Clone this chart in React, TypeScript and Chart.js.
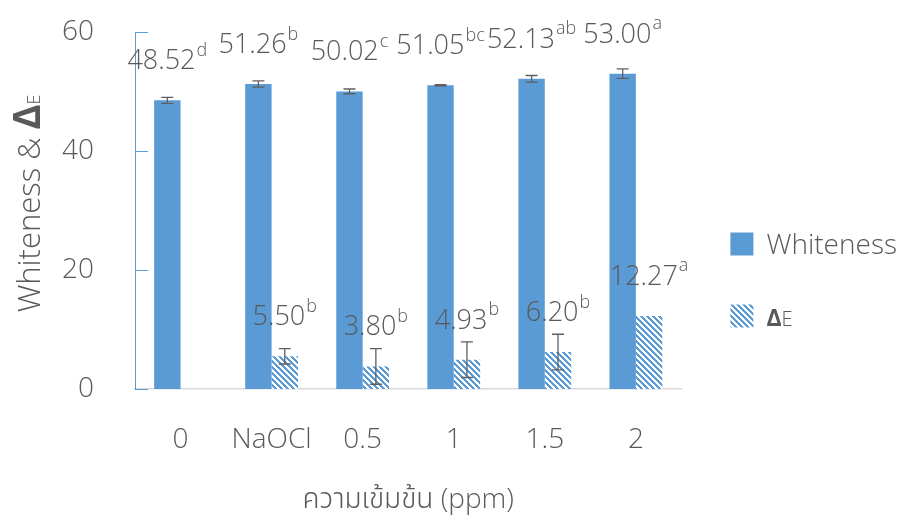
import React, { useEffect, useRef } from "react";
import { Chart, registerables } from "chart.js";

Chart.register(...registerables);

const categories = ["0", "NaOCl", "0.5", "1", "1.5", "2"];
const whiteness = [48.52, 51.26, 50.02, 51.05, 52.13, 53.0];
const whitenessSd = [0.5, 0.53, 0.4, 0.12, 0.56, 0.8];
const whitenessLetters = ["d", "b", "c", "bc", "ab", "a"];
const deltaE = [null, 5.5, 3.8, 4.93, 6.2, 12.27];
const deltaESd = [null, 1.3, 3.0, 3.0, 3.0, null];
const deltaELetters = ["", "b", "b", "b", "b", "a"];
const yTickValues = [0, 20, 40, 60];

const FONT = "'Open Sans', 'Noto Sans', sans-serif";
const THAI_FONT =
  "'Open Sans', 'Noto Sans Thai', 'Noto Sans Thai UI', 'Noto Sans Thai Looped', Loma, Garuda, Sawasdee, 'Tlwg Typo', sans-serif";
const TEXT = "#595959";
const BLUE = "#5B9BD5";

function makePattern(): CanvasPattern | string {
  const c = document.createElement("canvas");
  c.width = 6;
  c.height = 6;
  const ctx = c.getContext("2d");
  if (!ctx) return BLUE;
  const img = ctx.createImageData(6, 6);
  for (let y = 0; y < 6; y++) {
    for (let x = 0; x < 6; x++) {
      const k = (((x - y) % 6) + 6) % 6;
      const blue = k < 3;
      const i = (y * 6 + x) * 4;
      img.data[i] = blue ? 0x5b : 255;
      img.data[i + 1] = blue ? 0x9b : 255;
      img.data[i + 2] = blue ? 0xd5 : 255;
      img.data[i + 3] = 255;
    }
  }
  ctx.putImageData(img, 0, 0);
  const p = ctx.createPattern(c, "repeat");
  return p || BLUE;
}

const sdLists = [whitenessSd, deltaESd];
const letterLists = [whitenessLetters, deltaELetters];

type Part = { t: string; f: string };

function drawParts(ctx: CanvasRenderingContext2D, parts: Part[], x: number, y: number) {
  let cx = x;
  parts.forEach((p) => {
    ctx.font = p.f;
    ctx.fillText(p.t, cx, y);
    cx += ctx.measureText(p.t).width;
  });
}

function partsWidth(ctx: CanvasRenderingContext2D, parts: Part[]) {
  let w = 0;
  parts.forEach((p) => {
    ctx.font = p.f;
    w += ctx.measureText(p.t).width;
  });
  return w;
}

const overlayPlugin = {
  id: "overlay",
  afterDraw(chart: any) {
    const ctx: CanvasRenderingContext2D = chart.ctx;
    const yScale = chart.scales.y;
    const area = chart.chartArea;
    ctx.save();
    // inner tick marks on the y axis
    ctx.strokeStyle = BLUE;
    ctx.lineWidth = 1;
    yTickValues.forEach((v) => {
      const py = Math.round(yScale.getPixelForValue(v)) + 0.5;
      ctx.beginPath();
      ctx.moveTo(area.left, py);
      ctx.lineTo(area.left + 13, py);
      ctx.stroke();
    });
    // error bars and value labels
    chart.data.datasets.forEach((ds: any, di: number) => {
      const meta = chart.getDatasetMeta(di);
      meta.data.forEach((bar: any, j: number) => {
        const v = ds.data[j];
        if (v === null || v === undefined) return;
        const sd = sdLists[di][j];
        const x = bar.x;
        if (sd !== null && sd !== undefined) {
          const yTop = yScale.getPixelForValue(v + sd);
          const yBot = yScale.getPixelForValue(v - sd);
          ctx.strokeStyle = "#5f5f5f";
          ctx.lineWidth = 1.3;
          ctx.beginPath();
          ctx.moveTo(x, yTop);
          ctx.lineTo(x, yBot);
          ctx.moveTo(x - 6, yTop);
          ctx.lineTo(x + 6, yTop);
          ctx.moveTo(x - 6, yBot);
          ctx.lineTo(x + 6, yBot);
          ctx.stroke();
        }
        const main = v.toFixed(2);
        const sup = letterLists[di][j];
        const base = yScale.getPixelForValue(v) - 31;
        const mainFont = `300 27px ${FONT}`;
        const supFont = `300 18px ${FONT}`;
        ctx.font = mainFont;
        const mw = ctx.measureText(main).width;
        ctx.font = supFont;
        const sw = ctx.measureText(sup).width;
        const left = x - (mw + sw + 1) / 2;
        ctx.fillStyle = TEXT;
        ctx.textBaseline = "alphabetic";
        ctx.textAlign = "left";
        ctx.font = mainFont;
        ctx.fillText(main, left, base);
        ctx.font = supFont;
        ctx.fillText(sup, left + mw + 1, base - 13.5);
      });
    });
    // y axis title with mixed styles
    const yParts: Part[] = [
      { t: "Whiteness & ", f: `300 31px ${FONT}` },
      { t: "Δ", f: `bold 38px ${FONT}` },
      { t: "E", f: `300 18px ${FONT}` },
    ];
    const tw = partsWidth(ctx, yParts);
    ctx.save();
    ctx.translate(40, (area.top + area.bottom) / 2 - 7);
    ctx.rotate(-Math.PI / 2);
    ctx.fillStyle = TEXT;
    ctx.textBaseline = "alphabetic";
    ctx.textAlign = "left";
    drawParts(ctx, yParts, -tw / 2, 0);
    ctx.restore();
    // legend texts
    const legend = chart.legend;
    if (legend && legend.legendHitBoxes) {
      const texts: Part[][] = [
        [{ t: "Whiteness", f: `300 28px ${FONT}` }],
        [
          { t: "Δ", f: `bold 23px ${FONT}` },
          { t: "E", f: `300 20px ${FONT}` },
        ],
      ];
      legend.legendHitBoxes.forEach((hb: any, i: number) => {
        const parts = texts[i];
        if (!parts) return;
        ctx.fillStyle = TEXT;
        ctx.textBaseline = "alphabetic";
        ctx.textAlign = "left";
        drawParts(ctx, parts, hb.left + 36, hb.top + hb.height / 2 + 10);
      });
    }
    ctx.restore();
  },
};

export default function App() {
  const ref = useRef<HTMLCanvasElement | null>(null);
  useEffect(() => {
    if (!ref.current) return;
    const pattern = makePattern();
    const chart = new Chart(ref.current, {
      type: "bar",
      data: {
        labels: categories,
        datasets: [
          {
            label: "Whiteness",
            data: whiteness,
            backgroundColor: BLUE,
            borderWidth: 0,
            barPercentage: 1,
            categoryPercentage: 0.58,
          },
          {
            label: "ΔE",
            data: deltaE as any,
            backgroundColor: pattern as any,
            borderWidth: 0,
            barPercentage: 1,
            categoryPercentage: 0.58,
          },
        ],
      },
      options: {
        animation: false,
        responsive: false,
        maintainAspectRatio: false,
        layout: { padding: { top: 32, left: 12, right: 22, bottom: 0 } },
        plugins: {
          legend: {
            position: "right",
            align: "center",
            title: {
              display: true,
              text: "",
              font: { size: 5, family: FONT },
              padding: 0.5,
            },
            labels: {
              boxWidth: 23,
              boxHeight: 23,
              padding: 49,
              color: "rgba(0,0,0,0)",
              font: { size: 22, family: FONT, weight: "300" as any },
              generateLabels: (chart: any) =>
                chart.data.datasets.map((ds: any, i: number) => ({
                  text: ds.label,
                  fillStyle: ds.backgroundColor,
                  strokeStyle: ds.backgroundColor,
                  lineWidth: 0,
                  hidden: false,
                  datasetIndex: i,
                  fontColor: "rgba(0,0,0,0)",
                })),
            },
          },
          tooltip: { enabled: false },
        },
        scales: {
          x: {
            grid: { display: false, drawTicks: false },
            border: { display: true, color: "#D9D9D9", width: 1.5 },
            afterFit: (scale: any) => {
              scale.height = 132;
            },
            ticks: {
              color: TEXT,
              padding: 34,
              font: { size: 28, family: FONT, weight: "300" as any },
            },
            title: {
              display: true,
              text: "ความเข้มข้น (ppm)",
              color: TEXT,
              padding: { top: 0, bottom: 4 },
              font: { size: 28, family: THAI_FONT, weight: "300" as any },
            },
          },
          y: {
            min: 0,
            max: 60,
            grid: { display: false, drawTicks: false },
            border: { display: true, color: BLUE, width: 1 },
            afterBuildTicks: (scale: any) => {
              scale.ticks = yTickValues.map((v) => ({ value: v }));
            },
            afterFit: (scale: any) => {
              scale.width = 123;
              scale.paddingTop = 0;
              scale.paddingBottom = 0;
            },
            ticks: {
              color: TEXT,
              padding: 41,
              font: { size: 28, family: FONT, weight: "300" as any },
            },
            title: { display: false },
          },
        },
      },
      plugins: [overlayPlugin],
    });
    return () => chart.destroy();
  }, []);
  return (
    <div style={{ position: "fixed", left: 0, top: 0, width: 899, height: 521, background: "#fff" }}>
      <canvas ref={ref} width={899} height={521} style={{ width: 899, height: 521 }} />
    </div>
  );
}
